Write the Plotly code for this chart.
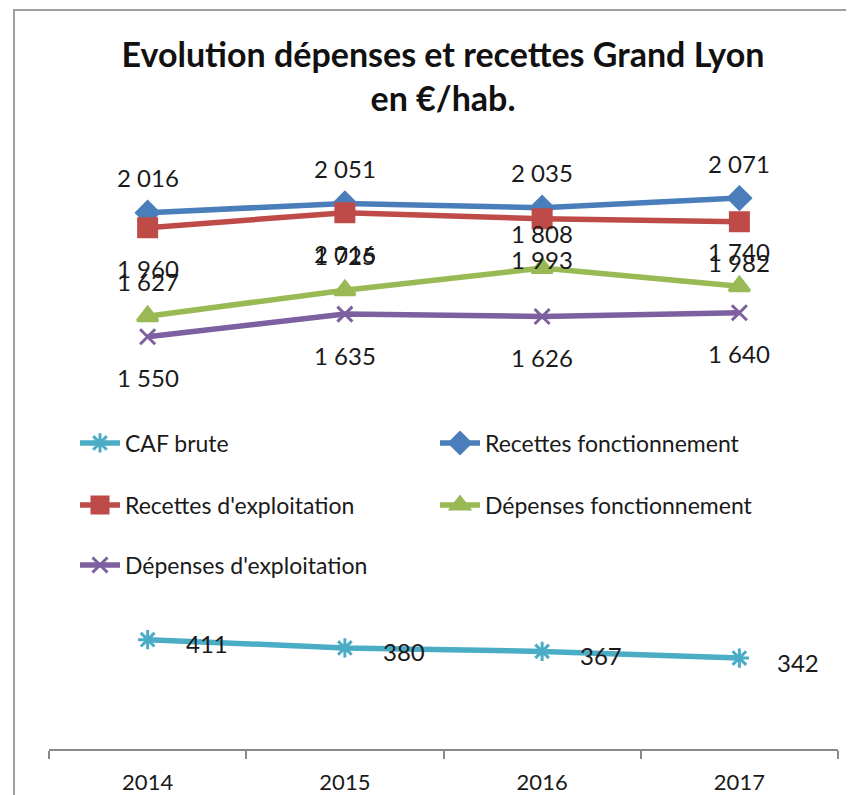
import plotly.graph_objects as go

years = ["2014", "2015", "2016", "2017"]
caf_brute = [411, 380, 367, 342]
recettes_fonct = [2016, 2051, 2035, 2071]
recettes_exploit = [1960, 2016, 1993, 1982]
depenses_fonct = [1627, 1725, 1808, 1740]
depenses_exploit = [1550, 1635, 1626, 1640]

FONT = "Lato, Open Sans, sans-serif"
TXT = "#1a1a1a"

series = [
    # name, values, color, symbol, size, legend, label mode
    ("CAF brute", caf_brute, "#4BACC6", "asterisk-open", 16, "legend", "right"),
    ("Recettes fonctionnement", recettes_fonct, "#4A7EBB", "diamond", 17, "legend", "above"),
    ("Recettes d'exploitation", recettes_exploit, "#BE4B48", "square", 18, "legend2", "below"),
    ("Dépenses fonctionnement", depenses_fonct, "#98B954", "triangle-up", 18, "legend2", "above"),
    ("Dépenses d'exploitation", depenses_exploit, "#7D60A0", "x-thin-open", 15, "legend3", "below"),
]

fig = go.Figure()
annotations = []
for name, vals, color, symbol, size, leg, mode in series:
    fig.add_trace(go.Scatter(
        x=years, y=vals, name=name, mode="lines+markers",
        line=dict(color=color, width=5.5),
        marker=dict(symbol=symbol, size=size, color=color,
                    line=dict(color=color, width=3)),
        legend=leg,
    ))
    for i, v in enumerate(vals):
        txt = f"{v:,}".replace(",", " ")
        a = dict(x=i, y=v, xref="x", yref="y", text=txt, showarrow=False,
                 font=dict(family=FONT, size=24, color=TXT))
        if mode == "above":
            a.update(yshift=35)
        elif mode == "below":
            a.update(yshift=-41)
        else:
            a.update(xanchor="left", xshift=36, yshift=-4)
        annotations.append(a)

# page body has an 8px margin: figure is 846x787 placed at (8, 8)
L, T, R, B = 41, 76, 16, 46
PW, PH = 846 - L - R, 787 - T - B

leg_common = dict(orientation="h", xref="paper", yref="paper",
                  xanchor="left", yanchor="middle", entrywidth=305, itemwidth=40,
                  bgcolor="rgba(0,0,0,0)",
                  font=dict(family=FONT, size=23, color=TXT))
leg_x = (67 - L) / PW

fig.update_layout(
    width=846, height=787,
    margin=dict(l=L, r=R, t=T, b=B, autoexpand=False),
    paper_bgcolor="white", plot_bgcolor="white",
    title=dict(text="<b>Evolution dépenses et recettes Grand Lyon<br>en €/hab.</b>",
               x=435 / 846, xanchor="center", y=1 - 58.5 / 787, yanchor="middle",
               font=dict(family=FONT, size=34, color="#111111")),
    xaxis=dict(type="category", range=[-0.5, 3.5], showline=True, linecolor="#888888",
               linewidth=2, ticks="outside", tickson="boundaries", ticklen=8,
               tickcolor="#888888", tickwidth=2, showgrid=False, zeroline=False,
               ticklabelstandoff=13,
               tickfont=dict(family=FONT, size=22, color=TXT)),
    yaxis=dict(range=[0, 2500], visible=False, showgrid=False),
    legend=dict(x=leg_x, y=(741 - 435) / PH, **leg_common),
    legend2=dict(x=leg_x, y=(741 - 497) / PH, **leg_common),
    legend3=dict(x=leg_x, y=(741 - 557) / PH, **leg_common),
    annotations=annotations,
    shapes=[dict(type="rect", xref="paper", yref="paper",
                 x0=(6 - L) / PW, x1=1.2, y0=-0.3, y1=(741 - 2) / PH,
                 line=dict(color="#A0A0A0", width=2), layer="below")],
)

fig.write_html("out.html")
